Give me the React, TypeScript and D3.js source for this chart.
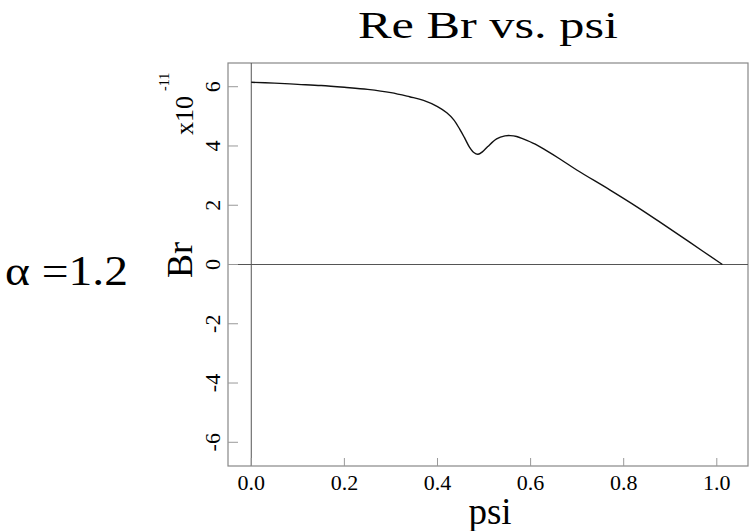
import React from "react";
import * as d3 from "d3";

const psi = [0, 0.05, 0.1, 0.15, 0.2, 0.25, 0.3, 0.34, 0.37, 0.4, 0.42, 0.435, 0.448, 0.458, 0.468, 0.478, 0.487, 0.497, 0.508, 0.527, 0.545, 0.556, 0.57, 0.584, 0.61, 0.634, 0.663, 0.7, 0.77, 0.83, 0.878, 0.94, 1.012];
const br = [6.15, 6.12, 6.08, 6.04, 5.98, 5.91, 5.8, 5.66, 5.54, 5.33, 5.12, 4.88, 4.56, 4.28, 3.98, 3.78, 3.72, 3.81, 3.98, 4.24, 4.34, 4.35, 4.32, 4.24, 4.06, 3.84, 3.56, 3.18, 2.52, 1.93, 1.43, 0.77, 0];
const xTicks = [0, 0.2, 0.4, 0.6, 0.8, 1.0];
const yTicks = [-6, -4, -2, 0, 2, 4, 6];
const titleText = "Re Br vs. psi";
const xLabel = "psi";
const yLabel = "Br";
const sideLabel = "α =1.2";

const FONT = "Liberation Serif";
const tf = { fontFamily: FONT };

export default function App() {
  const x = d3.scaleLinear().domain([-0.05, 1.067]).range([228, 748]);
  const y = d3.scaleLinear().domain([-6.8, 6.8]).range([466, 63]);
  const pts: [number, number][] = psi.map((p, i) => [p, br[i]]);
  const line = d3
    .line<[number, number]>()
    .x((d) => x(d[0]))
    .y((d) => y(d[1]))
    .curve(d3.curveCatmullRom.alpha(0.5));
  const [x0, x1] = x.range();
  const [yb, yt] = y.range();
  return (
    <svg width={755} height={531} style={{ position: "absolute", left: 0, top: 0, background: "#fff", fontFamily: FONT }}>
      <rect x={0} y={0} width={755} height={531} fill="#fff" />
      <text x={358} y={38} fontSize={38} style={tf} textLength={260} lengthAdjust="spacingAndGlyphs" fill="#000">
        {titleText}
      </text>
      <text x={5} y={285} fontSize={42} style={tf} textLength={123} lengthAdjust="spacingAndGlyphs" fill="#000">
        {sideLabel}
      </text>
      {/* frame */}
      <rect x={x0} y={yt} width={x1 - x0} height={yb - yt} fill="none" stroke="#888" strokeWidth={1.2} />
      {/* zero lines */}
      <line x1={x(0)} x2={x(0)} y1={yt} y2={yb} stroke="#555" strokeWidth={1} />
      <line x1={x0} x2={x1} y1={y(0)} y2={y(0)} stroke="#555" strokeWidth={1} />
      {/* y ticks */}
      {yTicks.map((t) => (
        <g key={"y" + t}>
          <line x1={x0} x2={x0 + 10} y1={y(t)} y2={y(t)} stroke="#999" strokeWidth={1} />
          <text
            transform={`translate(220,${y(t)}) rotate(-90)`}
            textAnchor="middle"
            fontSize={22}
            style={tf}
            fill="#000"
          >
            {t}
          </text>
        </g>
      ))}
      {/* x ticks */}
      {xTicks.map((t) => (
        <g key={"x" + t}>
          <line x1={x(t)} x2={x(t)} y1={yb} y2={yb - 8} stroke="#999" strokeWidth={1} />
          <text x={x(t)} y={490} textAnchor="middle" fontSize={22} style={tf} fill="#000">
            {t.toFixed(1)}
          </text>
        </g>
      ))}
      {/* exponent */}
      <text transform={`translate(193,135) rotate(-90)`} fontSize={26} style={tf} fill="#000">
        x10
      </text>
      <text transform={`translate(169,91) rotate(-90)`} fontSize={14} style={tf} fill="#000">
        -11
      </text>
      {/* axis labels */}
      <text transform={`translate(192,260) rotate(-90)`} textAnchor="middle" fontSize={36} style={tf} fill="#000">
        {yLabel}
      </text>
      <text x={490} y={524} textAnchor="middle" fontSize={37} style={tf} fill="#000">
        {xLabel}
      </text>
      {/* curve */}
      <path d={line(pts) || ""} fill="none" stroke="#111" strokeWidth={1.4} />
    </svg>
  );
}
